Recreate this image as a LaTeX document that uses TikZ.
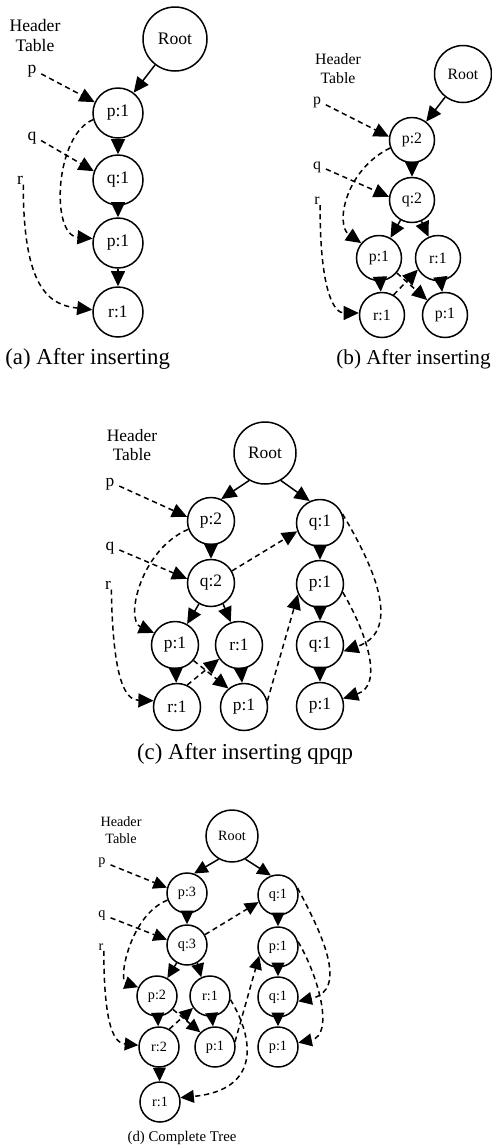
\documentclass[tikz,border=0pt]{standalone}
\usepackage{fontspec}
\setmainfont{Liberation Serif}
\usetikzlibrary{arrows.meta}
\begin{document}
\begin{tikzpicture}[x=0.5pt,y=-0.5pt,
  nd/.style={circle,draw,line width=0.75pt,inner sep=0pt},
  lb/.style={inner sep=0pt},
  tr/.style={-{Triangle[length=7.6pt,width=7pt]},line width=0.75pt},
  ds/.style={tr,dash pattern=on 2.6pt off 1.9pt},
  captxt/.style={inner sep=0pt,font=\fontsize{11.4}{13}\selectfont}]
\useasboundingbox (0,0) rectangle (492,1148);

% ---------------- (a)
\begin{scope}[every node/.append style={font=\fontsize{8.8}{10}\selectfont}]
\node[nd,minimum size=32pt] (aR) at (175,39) {Root};
\node[nd,minimum size=25pt] (a1) at (118,113) {p:1};
\node[nd,minimum size=25pt] (a2) at (118,180) {q:1};
\node[nd,minimum size=25pt] (a3) at (118,243) {p:1};
\node[nd,minimum size=25pt] (a4) at (118,312) {r:1};
\node[lb,align=center] (aH) at (35,35) {Header\\Table};
\node[lb] (ap) at (32,71.5) {p};
\node[lb] (aq) at (32,138) {q};
\node[lb] (ar) at (20,180) {r};
\end{scope}
\draw[tr] (aR) -- (a1);
\draw[tr] (a1) -- (a2);
\draw[tr] (a2) -- (a3);
\draw[tr] (a3) -- (a4);
\draw[ds,shorten <=2.5pt] (ap.east) -- (a1.155);
\draw[ds,shorten <=2.5pt] (aq.east) -- (a2.160);
\draw[ds] (a1.195) .. controls (55,135) and (50,235) .. (a3.170);
\draw[ds] (ar.south east) .. controls (23,290) and (50,305) .. (a4.175);
\node[captxt,anchor=base west] (capa) at (5,364) {(a) After inserting};

% ---------------- (b)
\begin{scope}[every node/.append style={font=\fontsize{7.9}{9.5}\selectfont}]
\node[nd,minimum size=28.5pt] (bR) at (463,74) {Root};
\node[nd,minimum size=22.5pt] (bp2) at (412,140) {p:2};
\node[nd,minimum size=22.5pt] (bq2) at (412,200) {q:2};
\node[nd,minimum size=22.5pt] (bp1) at (379,258) {p:1};
\node[nd,minimum size=22.5pt] (br1) at (438,258) {r:1};
\node[nd,minimum size=22.5pt] (br1b) at (382,315) {r:1};
\node[nd,minimum size=22.5pt] (bp1b) at (445,315) {p:1};
\node[lb,align=center] (bH) at (338,69) {Header\\Table};
\node[lb] (bp) at (317,102.5) {p};
\node[lb] (bq) at (317,167) {q};
\node[lb] (br) at (317,201) {r};
\end{scope}
\draw[tr] (bR) -- (bp2);
\draw[tr] (bp2) -- (bq2);
\draw[tr] (bq2) -- (bp1);
\draw[tr] (bq2) -- (br1);
\draw[tr] (bp1) -- (br1b);
\draw[tr] (br1) -- (bp1b);
\draw[ds,shorten <=2.5pt] (bp.east) -- (bp2.172);
\draw[ds,shorten <=2.5pt] (bq.east) -- (bq2.172);
\draw[ds] (bp2.200) .. controls (345,170) and (335,225) .. (bp1.140);
\draw[ds] (br.south east) .. controls (320,295) and (335,313) .. (br1b.175);
\draw[ds] (br1b.60) -- (br1.210);
\draw[ds] (bp1.-40) -- (bp1b.140);
\node[captxt,anchor=base west,font=\fontsize{10.6}{12}\selectfont] (capb) at (336,364) {(b) After inserting};

% ---------------- (c)
\begin{scope}[every node/.append style={font=\fontsize{8.7}{9.5}\selectfont}]
\node[nd,minimum size=31pt] (cR) at (265,453) {Root};
\node[nd,minimum size=23.5pt] (cp2) at (211,521) {p:2};
\node[nd,minimum size=23.5pt] (cq1) at (320,523) {q:1};
\node[nd,minimum size=23.5pt] (cq2) at (211,583) {q:2};
\node[nd,minimum size=23.5pt] (cp1r) at (320,584) {p:1};
\node[nd,minimum size=23.5pt] (cp1) at (175,645) {p:1};
\node[nd,minimum size=23.5pt] (cr1) at (239,645) {r:1};
\node[nd,minimum size=23.5pt] (cq1r) at (320,645) {q:1};
\node[nd,minimum size=23.5pt] (cr1b) at (177,707) {r:1};
\node[nd,minimum size=23.5pt] (cp1b) at (244,707) {p:1};
\node[nd,minimum size=23.5pt] (cp1rb) at (320,706) {p:1};
\node[lb,align=center] (cH) at (132,445.5) {Header\\Table};
\node[lb] (cp) at (110,484) {p};
\node[lb] (cq) at (110,548) {q};
\node[lb] (cr) at (108,585) {r};
\end{scope}
\draw[tr] (cR.240) -- (cp2.65);
\draw[tr] (cR.300) -- (cq1.115);
\draw[tr] (cp2) -- (cq2);
\draw[tr] (cq2.240) -- (cp1.60);
\draw[tr] (cq2.300) -- (cr1.110);
\draw[tr] (cp1) -- (cr1b);
\draw[tr] (cr1) -- (cp1b);
\draw[tr] (cq1) -- (cp1r);
\draw[tr] (cp1r) -- (cq1r);
\draw[tr] (cq1r) -- (cp1rb);
\draw[ds,shorten <=2.5pt] (cp.east) -- (cp2.170);
\draw[ds,shorten <=2.5pt] (cq.east) -- (cq2.170);
\draw[ds] (cp2.200) .. controls (140,550) and (125,620) .. (cp1.150);
\draw[ds] (cr.south east) .. controls (113,680) and (125,700) .. (cr1b.165);
\draw[ds] (cq2.30) -- (cq1.200);
\draw[ds] (cr1b.65) -- (cr1.215);
\draw[ds] (cp1.-40) -- (cp1b.130);
\draw[ds] (cp1b.15) -- (cp1r.205);
\draw[ds] (cq1.22) .. controls (370,560) and (405,630) .. (cq1r.-15);
\draw[ds] (cp1r.-20) .. controls (365,630) and (385,685) .. (cp1rb.18);
\node[captxt,anchor=base] (capc) at (245,759) {(c) After inserting qpqp};

% ---------------- (d)
\begin{scope}[every node/.append style={font=\fontsize{7.1}{8.5}\selectfont}]
\node[nd,minimum size=26pt] (dR) at (232,836) {Root};
\node[nd,minimum size=20pt] (dp3) at (187,893) {p:3};
\node[nd,minimum size=20pt] (dq1) at (278,895) {q:1};
\node[nd,minimum size=20pt] (dq3) at (187,945) {q:3};
\node[nd,minimum size=20pt] (dp1r) at (278,947) {p:1};
\node[nd,minimum size=20pt] (dp2) at (157,996) {p:2};
\node[nd,minimum size=20pt] (dr1) at (210,996) {r:1};
\node[nd,minimum size=20pt] (dq1r) at (278,997) {q:1};
\node[nd,minimum size=20pt] (dr2) at (159,1047) {r:2};
\node[nd,minimum size=20pt] (dp1b) at (215,1047) {p:1};
\node[nd,minimum size=20pt] (dp1rb) at (278,1047) {p:1};
\node[nd,minimum size=20pt] (dr1b) at (160,1102) {r:1};
\node[lb,align=center] (dH) at (121,830.5) {Header\\Table};
\node[lb] (dp) at (102,863) {p};
\node[lb] (dq) at (102,916) {q};
\node[lb] (dr) at (101,947) {r};
\end{scope}
\begin{scope}[tr/.append style={-{Triangle[length=6.8pt,width=6.4pt]}}]
\draw[tr] (dR.240) -- (dp3.70);
\draw[tr] (dR.300) -- (dq1.110);
\draw[tr] (dp3) -- (dq3);
\draw[tr] (dq3.240) -- (dp2.60);
\draw[tr] (dq3.300) -- (dr1.115);
\draw[tr] (dp2) -- (dr2);
\draw[tr] (dr1) -- (dp1b);
\draw[tr] (dr2) -- (dr1b);
\draw[tr] (dq1) -- (dp1r);
\draw[tr] (dp1r) -- (dq1r);
\draw[tr] (dq1r) -- (dp1rb);
\draw[ds,shorten <=2.5pt] (dp.east) -- (dp3.165);
\draw[ds,shorten <=2.5pt] (dq.east) -- (dq3.165);
\draw[ds] (dr.south east) .. controls (104,1030) and (115,1043) .. (dr2.175);
\draw[ds] (dp3.200) .. controls (130,915) and (118,980) .. (dp2.155);
\draw[ds] (dq3.30) -- (dq1.200);
\draw[ds] (dr2.60) -- (dr1.215);
\draw[ds] (dp2.-40) -- (dp1b.135);
\draw[ds] (dp1b.15) -- (dp1r.205);
\draw[ds] (dq1.20) .. controls (320,930) and (350,990) .. (dq1r.-12);
\draw[ds] (dp1r.15) .. controls (318,975) and (335,1035) .. (dp1rb.12);
\draw[ds] (dr1.-10) .. controls (255,1040) and (260,1090) .. (dr1b.12);
\end{scope}
\node[captxt,anchor=base,font=\fontsize{7.4}{9}\selectfont] (capd) at (182,1141) {(d) Complete Tree};
\end{tikzpicture}
\end{document}
